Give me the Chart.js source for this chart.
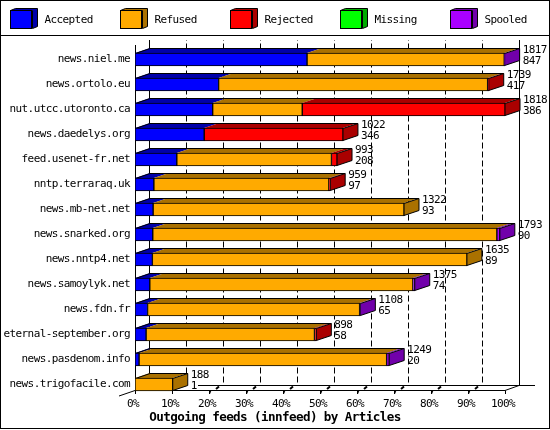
<!DOCTYPE html>
<html>
<head>
<meta charset="utf-8">
<title>Outgoing feeds</title>
<script src="https://cdn.jsdelivr.net/npm/chart.js@4"></script>
<style>
  html, body { margin: 0; padding: 0; background: #fff; }
  canvas { display: block; }
</style>
</head>
<body>
<canvas id="chart" width="550" height="430"></canvas>
<script>
const hosts = ['news.niel.me', 'news.ortolo.eu', 'nut.utcc.utoronto.ca', 'news.daedelys.org',
  'feed.usenet-fr.net', 'nntp.terraraq.uk', 'news.mb-net.net', 'news.snarked.org', 'news.nntp4.net',
  'news.samoylyk.net', 'news.fdn.fr', 'eternal-september.org', 'news.pasdenom.info', 'news.trigofacile.com'];

// bar segments, in % of the longest bar
const accepted = [46.5, 22.6, 21, 18.7, 11.3, 5.1, 4.9, 4.8, 4.7, 4, 3.4, 3, 1.1, 0];
const refused = [53.3, 72.7, 24.2, 0, 41.8, 47.3, 67.8, 93, 85, 71.1, 57.3, 45.5, 66.9, 10.2];
const rejected = [0, 0.3, 54.8, 37.5, 1.5, 0.35, 0, 0, 0, 0, 0, 0.5, 0, 0];
const missing = [0, 0, 0, 0, 0, 0, 0, 0, 0, 0, 0, 0, 0, 0];
const spooled = [0.1, 0, 0, 0, 0, 0, 0, 0.8, 0, 0.5, 0.2, 0, 0.7, 0];

// numbers printed next to each bar
const offeredCounts = [1817, 1739, 1818, 1022, 993, 959, 1322, 1793, 1635, 1375, 1108, 898, 1249, 188];
const acceptedCounts = [847, 417, 386, 346, 208, 97, 93, 90, 89, 74, 65, 58, 20, 1];

const xTicks = ['0%', '10%', '20%', '30%', '40%', '50%', '60%', '70%', '80%', '90%', '100%'];
const seriesNames = ['Accepted', 'Refused', 'Rejected', 'Missing', 'Spooled'];
const seriesValues = [accepted, refused, rejected, missing, spooled];
const faceColors = ['#0000ff', '#ffaa00', '#ff0000', '#00ff00', '#aa00ff'];
const shadeColors = ['#0000aa', '#aa7100', '#aa0000', '#00aa00', '#7100aa'];

const MONO = '"DejaVu Sans Mono", monospace';
const FONT_SIZE = 11; // squeezed to a 6px advance with letterSpacing
const DX = 15; // depth of the 3d effect
const DY = 5;

function poly(ctx, pts, fill) {
  ctx.beginPath();
  pts.forEach((p, i) => (i ? ctx.lineTo(p[0], p[1]) : ctx.moveTo(p[0], p[1])));
  ctx.closePath();
  if (fill) { ctx.fillStyle = fill; ctx.fill(); }
}

function line(ctx, x1, y1, x2, y2) {
  ctx.beginPath();
  ctx.moveTo(x1, y1);
  ctx.lineTo(x2, y2);
  ctx.stroke();
}

const frame3d = {
  id: 'frame3d',
  // title is centred on the whole picture, not on the padded area
  afterLayout(chart) {
    chart.titleBlock.right = chart.width;
  },
  beforeDraw(chart) {
    chart.ctx.letterSpacing = '-0.6px';
  },
  // frame, legend, back wall and floor go under the bars
  beforeDatasetsDraw(chart) {
    const ctx = chart.ctx;
    const x = chart.scales.x;
    const left = x.getPixelForValue(0);
    const right = x.getPixelForValue(100);
    const wallTop = 40, backY = 385.5, frontY = 390.5;
    ctx.save();
    ctx.strokeStyle = '#000';
    ctx.lineWidth = 1;
    ctx.strokeRect(0.5, 0.5, 549, 428);
    line(ctx, 0, 35.5, 550, 35.5);

    seriesNames.forEach((name, i) => {
      const bx = 10.5 + i * 110, by = 10.5;
      poly(ctx, [[bx, by], [bx + 5, by - 2], [bx + 27, by - 2], [bx + 27, by + 16], [bx + 22, by + 18], [bx + 22, by]], shadeColors[i]);
      ctx.stroke();
      ctx.fillStyle = faceColors[i];
      ctx.fillRect(bx, by, 21, 18);
      ctx.strokeRect(bx, by, 21, 18);
      ctx.fillStyle = '#000';
      ctx.font = FONT_SIZE + 'px ' + MONO;
      ctx.textBaseline = 'middle';
      ctx.textAlign = 'left';
      ctx.fillText(name, bx + 34, 20.5);
    });

    // walls
    line(ctx, left + 0.5, 45, left + 0.5, frontY);
    line(ctx, left + DX - 0.5, wallTop, left + DX - 0.5, backY);
    line(ctx, right + DX - 0.5, wallTop, right + DX - 0.5, backY);
    line(ctx, 198, backY, 535, backY);
    line(ctx, left, frontY, right, frontY);
    line(ctx, 119, 396, left, frontY);
    line(ctx, right, frontY, right + DX - 1, backY);

    xTicks.forEach((t, i) => {
      const px = Math.round(x.getPixelForValue(i * 10));
      line(ctx, px + 0.5, frontY, px + 0.5, 394);
      if (i === 0 || i === 10) return;
      ctx.setLineDash([6, 3]);
      line(ctx, px + DX - 0.5, backY - 3, px + DX - 0.5, wallTop);
      ctx.setLineDash([]);
      if (i > 1) {
        ctx.lineWidth = 2;
        line(ctx, px + 7, 389, px + 10, 386.5);
        ctx.lineWidth = 1;
        line(ctx, px + 0.5, 394, px + 2, frontY);
      }
    });

    // top and side faces of the bars
    hosts.forEach((h, row) => {
      let lastEl = null, lastIdx = -1, firstEl = null;
      seriesValues.forEach((vals, s) => {
        if (!vals[row]) return;
        const el = chart.getDatasetMeta(s).data[row];
        const top = el.y - el.height / 2;
        poly(ctx, [[el.base, top], [el.base + DX, top - DY], [el.x + DX, top - DY], [el.x, top]], shadeColors[s]);
        firstEl = firstEl || el;
        lastEl = el;
        lastIdx = s;
      });
      const top = lastEl.y - lastEl.height / 2 + 0.5;
      const bottom = lastEl.y + lastEl.height / 2 - 0.5;
      line(ctx, firstEl.base + 0.5, top, firstEl.base + DX, top - DY);
      line(ctx, firstEl.base + DX, top - DY, lastEl.x + DX, top - DY);
      poly(ctx, [[lastEl.x, top], [lastEl.x + DX, top - DY], [lastEl.x + DX, bottom - DY], [lastEl.x, bottom]], shadeColors[lastIdx]);
      ctx.stroke();
    });
    ctx.restore();
  },
  // counts go on top of everything
  afterDatasetsDraw(chart) {
    const ctx = chart.ctx;
    ctx.save();
    ctx.fillStyle = '#000';
    ctx.font = FONT_SIZE + 'px ' + MONO;
    ctx.textBaseline = 'middle';
    ctx.textAlign = 'left';
    hosts.forEach((h, row) => {
      let endX = 0, top = 0;
      seriesValues.forEach((vals, s) => {
        if (!vals[row]) return;
        const el = chart.getDatasetMeta(s).data[row];
        endX = el.x;
        top = el.y - el.height / 2;
      });
      ctx.fillText(String(offeredCounts[row]), endX + DX + 3, top - 3);
      ctx.fillText(String(acceptedCounts[row]), endX + DX + 3, top + 8);
    });
    ctx.restore();
  }
};

new Chart(document.getElementById('chart'), {
  type: 'bar',
  data: {
    labels: hosts,
    datasets: seriesNames.map((name, i) => ({
      label: name,
      data: seriesValues[i],
      backgroundColor: faceColors[i],
      borderColor: '#000',
      borderWidth: 1,
      borderSkipped: false,
      barThickness: 13
    }))
  },
  options: {
    indexAxis: 'y',
    responsive: false,
    animation: false,
    layout: { padding: { left: 0, right: 45, top: 47, bottom: 0 } },
    plugins: {
      legend: { display: false },
      tooltip: { enabled: false },
      title: {
        display: true,
        position: 'bottom',
        text: 'Outgoing feeds (innfeed) by Articles',
        color: '#000',
        font: { family: MONO, size: 12.6, weight: 'bold', lineHeight: 14 / 12.6 },
        padding: { top: 1, bottom: 5 }
      }
    },
    scales: {
      x: {
        stacked: true,
        min: 0,
        max: 100,
        afterFit(s) { s.height = 13; },
        grid: { display: false, drawTicks: false },
        border: { display: false },
        ticks: {
          stepSize: 10,
          autoSkip: false,
          maxRotation: 0,
          padding: 1,
          labelOffset: -2,
          color: '#000',
          font: { family: MONO, size: FONT_SIZE },
          callback: (v) => xTicks[v / 10]
        }
      },
      y: {
        stacked: true,
        afterFit(s) { s.width = 135; },
        grid: { display: false, drawTicks: false },
        border: { display: false },
        ticks: {
          autoSkip: false,
          padding: 5,
          color: '#000',
          font: { family: MONO, size: FONT_SIZE }
        }
      }
    }
  },
  plugins: [frame3d]
});
</script>
</body>
</html>
